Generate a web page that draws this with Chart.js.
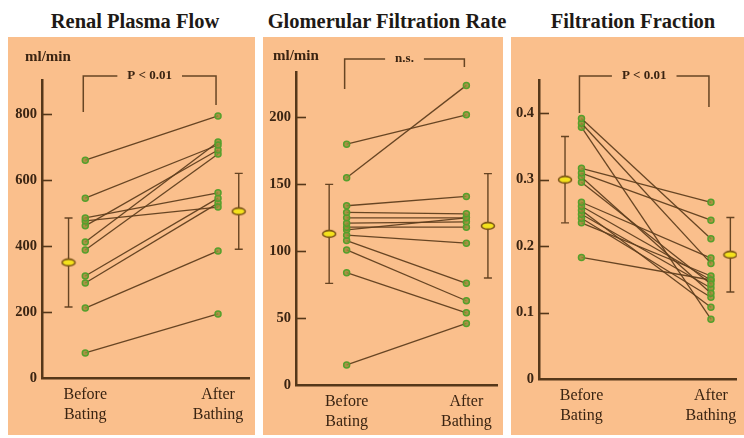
<!DOCTYPE html>
<html>
<head>
<meta charset="utf-8">
<script src="https://cdn.jsdelivr.net/npm/chart.js@4.4.1/dist/chart.umd.min.js"></script>
<style>
  html, body { margin: 0; padding: 0; background: #fff; }
  body { width: 744px; height: 438px; position: relative; overflow: hidden; font-family: "Liberation Serif", serif; }
  .title { position: absolute; top: 10px; font-weight: bold; font-size: 20.5px; color: #1e1a16; white-space: nowrap; transform: translateX(-50%); }
  .panel { position: absolute; top: 37px; height: 398px; background: #fabf8c; }
  .panel canvas { display: block; }
</style>
</head>
<body>
<div class="title" style="left:135px">Renal Plasma Flow</div>
<div class="title" style="left:387px">Glomerular Filtration Rate</div>
<div class="title" style="left:633px">Filtration Fraction</div>
<div class="panel" style="left:8px;width:247px"><canvas id="rpfChart" width="247" height="398"></canvas></div>
<div class="panel" style="left:263px;width:240px"><canvas id="gfrChart" width="240" height="398"></canvas></div>
<div class="panel" style="left:511px;width:233px"><canvas id="ffChart" width="233" height="398"></canvas></div>
<script>
// values, one pair per subject (before -> after)
const categoryLabels = [["Before", "Bating"], ["After", "Bathing"]];

const rpfTicks = [0, 200, 400, 600, 800];
const rpfBefore = [660, 545, 485, 476, 461, 412, 388, 309, 288, 212, 76];
const rpfAfter = [794, 706, 561, 518, 691, 715, 679, 545, 530, 385, 194];
const rpfMean = [350, 505];
const rpfSd = [135, 115];

const gfrTicks = [0, 50, 100, 150, 200];
const gfrBefore = [180, 155, 134, 129, 125, 121, 118, 116, 112, 108, 101, 84, 15];
const gfrAfter = [202, 224, 141, 128, 125, 122, 118, 125, 106, 76, 63, 54, 46];
const gfrMean = [113, 119];
const gfrSd = [37, 39];

const ffTicks = [0, 0.1, 0.2, 0.3, 0.4];
const ffBefore = [0.392, 0.385, 0.379, 0.317, 0.31, 0.304, 0.296, 0.266, 0.26, 0.254, 0.248, 0.242, 0.235, 0.183];
const ffAfter = [0.211, 0.174, 0.09, 0.266, 0.239, 0.129, 0.143, 0.182, 0.149, 0.108, 0.137, 0.123, 0.155, 0.149];
const ffMean = [0.3, 0.187];
const ffSd = [0.065, 0.056];

const axisColor = "#553719";
const lineColor = "rgba(95, 62, 30, 0.95)";
const textColor = "#3a2412";
const serif = '"Liberation Serif", "Times New Roman", serif';

// yellow oval used for the group means
const meanMarker = document.createElement("canvas");
meanMarker.width = 16;
meanMarker.height = 10;
(function () {
  const c = meanMarker.getContext("2d");
  c.beginPath();
  c.ellipse(8, 5, 6.5, 3.4, 0, 0, Math.PI * 2);
  c.fillStyle = "#f4e21c";
  c.fill();
  c.lineWidth = 1.6;
  c.strokeStyle = "#7a5316";
  c.stroke();
})();

// inward tick marks, significance bracket, unit label
const panelDecor = {
  id: "panelDecor",
  afterDraw(chart, args, opts) {
    const { ctx, chartArea, scales } = chart;
    const x = scales.x, y = scales.y;
    ctx.save();
    ctx.strokeStyle = axisColor;
    ctx.lineWidth = 1.6;
    y.ticks.forEach((t) => {
      if (t.value === 0) return;
      const py = Math.round(y.getPixelForValue(t.value)) + 0.5;
      ctx.beginPath();
      ctx.moveTo(chartArea.left, py);
      ctx.lineTo(chartArea.left + 10, py);
      ctx.stroke();
    });

    const b = opts.bracket;
    if (b) {
      const x1 = x.getPixelForValue(1) - 2;
      const x2 = x.getPixelForValue(2) - 2;
      const top = chartArea.top + b.top;
      ctx.font = "bold 13px " + serif;
      const w = ctx.measureText(b.text).width;
      const mid = (x1 + x2) / 2;
      ctx.lineWidth = 1.5;
      ctx.strokeStyle = lineColor;
      ctx.beginPath();
      ctx.moveTo(x1, chartArea.top + b.leftLeg);
      ctx.lineTo(x1, top);
      ctx.lineTo(mid - w / 2 - 10, top);
      ctx.moveTo(mid + w / 2 + 10, top);
      ctx.lineTo(x2, top);
      ctx.lineTo(x2, chartArea.top + b.rightLeg);
      ctx.stroke();
      ctx.fillStyle = textColor;
      ctx.textAlign = "center";
      ctx.textBaseline = "middle";
      ctx.fillText(b.text, mid, top);
    }

    if (opts.unit) {
      ctx.font = "bold 15px " + serif;
      ctx.fillStyle = textColor;
      ctx.textAlign = "left";
      ctx.textBaseline = "middle";
      ctx.fillText(opts.unit.text, chartArea.left + opts.unit.dx, chartArea.top + opts.unit.dy);
    }
    ctx.restore();
  },
};

function makePanel(id, p) {
  const datasets = [];
  p.before.forEach((v, i) => {
    datasets.push({
      data: [{ x: 1, y: v }, { x: 2, y: p.after[i] }],
      borderColor: lineColor,
      borderWidth: 1.3,
      pointRadius: 3,
      pointBackgroundColor: "rgba(150, 140, 55, 0.85)",
      pointBorderColor: "#55a02c",
      pointBorderWidth: 1.5,
      order: 2,
    });
  });
  p.mean.forEach((m, i) => {
    datasets.push({
      data: [{ x: p.meanX[i], y: m - p.sd[i] }, { x: p.meanX[i], y: m + p.sd[i] }],
      borderColor: lineColor,
      borderWidth: 1.4,
      pointStyle: "line",
      pointRadius: 4,
      pointBorderColor: lineColor,
      pointBorderWidth: 1.4,
      order: 1,
    });
    datasets.push({
      data: [{ x: p.meanX[i], y: m }],
      pointStyle: meanMarker,
      showLine: false,
      order: 0,
    });
  });

  return new Chart(document.getElementById(id), {
    type: "line",
    data: { datasets },
    plugins: [panelDecor],
    options: {
      responsive: false,
      animation: false,
      events: [],
      layout: { padding: { top: p.top, right: 0, left: 0, bottom: 0 } },
      plugins: {
        legend: { display: false },
        tooltip: { enabled: false },
        panelDecor: { bracket: p.bracket, unit: p.unit },
      },
      scales: {
        x: {
          type: "linear",
          min: p.xMin,
          max: p.xMax,
          afterBuildTicks: (s) => { s.ticks = [{ value: 1 }, { value: 2 }]; },
          afterFit: (s) => { s.height = p.xHeight; },
          grid: { display: true, drawOnChartArea: false, drawTicks: false },
          border: { display: true, color: axisColor, width: 2.5 },
          ticks: {
            autoSkip: false,
            maxRotation: 0,
            padding: 7,
            color: textColor,
            font: { family: serif, size: 16, lineHeight: 1.25 },
            callback: (v) => categoryLabels[Math.round(v) - 1],
          },
        },
        y: {
          min: 0,
          max: p.yMax,
          afterBuildTicks: (s) => { s.ticks = p.ticks.map((v) => ({ value: v })); },
          afterFit: (s) => { s.width = p.yWidth; },
          grid: { display: true, drawOnChartArea: false, drawTicks: false },
          border: { display: true, color: axisColor, width: 2.5 },
          ticks: {
            padding: 5,
            color: textColor,
            font: { family: serif, size: 14.5, weight: "bold" },
            callback: (v) => String(v),
          },
        },
      },
    },
  });
}

makePanel("rpfChart", {
  before: rpfBefore, after: rpfAfter, mean: rpfMean, sd: rpfSd, ticks: rpfTicks,
  yMax: 903, xMin: 0.674, xMax: 2.237, meanX: [0.874, 2.156],
  yWidth: 34, top: 43, xHeight: 57,
  bracket: { text: "P < 0.01", top: -4, leftLeg: 32, rightLeg: 25 },
  unit: { text: "ml/min", dx: -17, dy: -23 },
});

makePanel("gfrChart", {
  before: gfrBefore, after: gfrAfter, mean: gfrMean, sd: gfrSd, ticks: gfrTicks,
  yMax: 234, xMin: 0.577, xMax: 2.26, meanX: [0.854, 2.18],
  yWidth: 33, top: 35, xHeight: 50,
  bracket: { text: "n.s.", top: -13, leftLeg: 17, rightLeg: -5 },
  unit: { text: "ml/min", dx: -23, dy: -16 },
});

makePanel("ffChart", {
  before: ffBefore, after: ffAfter, mean: ffMean, sd: ffSd, ticks: ffTicks,
  yMax: 0.45, xMin: 0.672, xMax: 2.2, meanX: [0.873, 2.15],
  yWidth: 28, top: 43, xHeight: 56,
  bracket: { text: "P < 0.01", top: -4, leftLeg: 33, rightLeg: 27 },
  unit: null,
});
</script>
</body>
</html>
